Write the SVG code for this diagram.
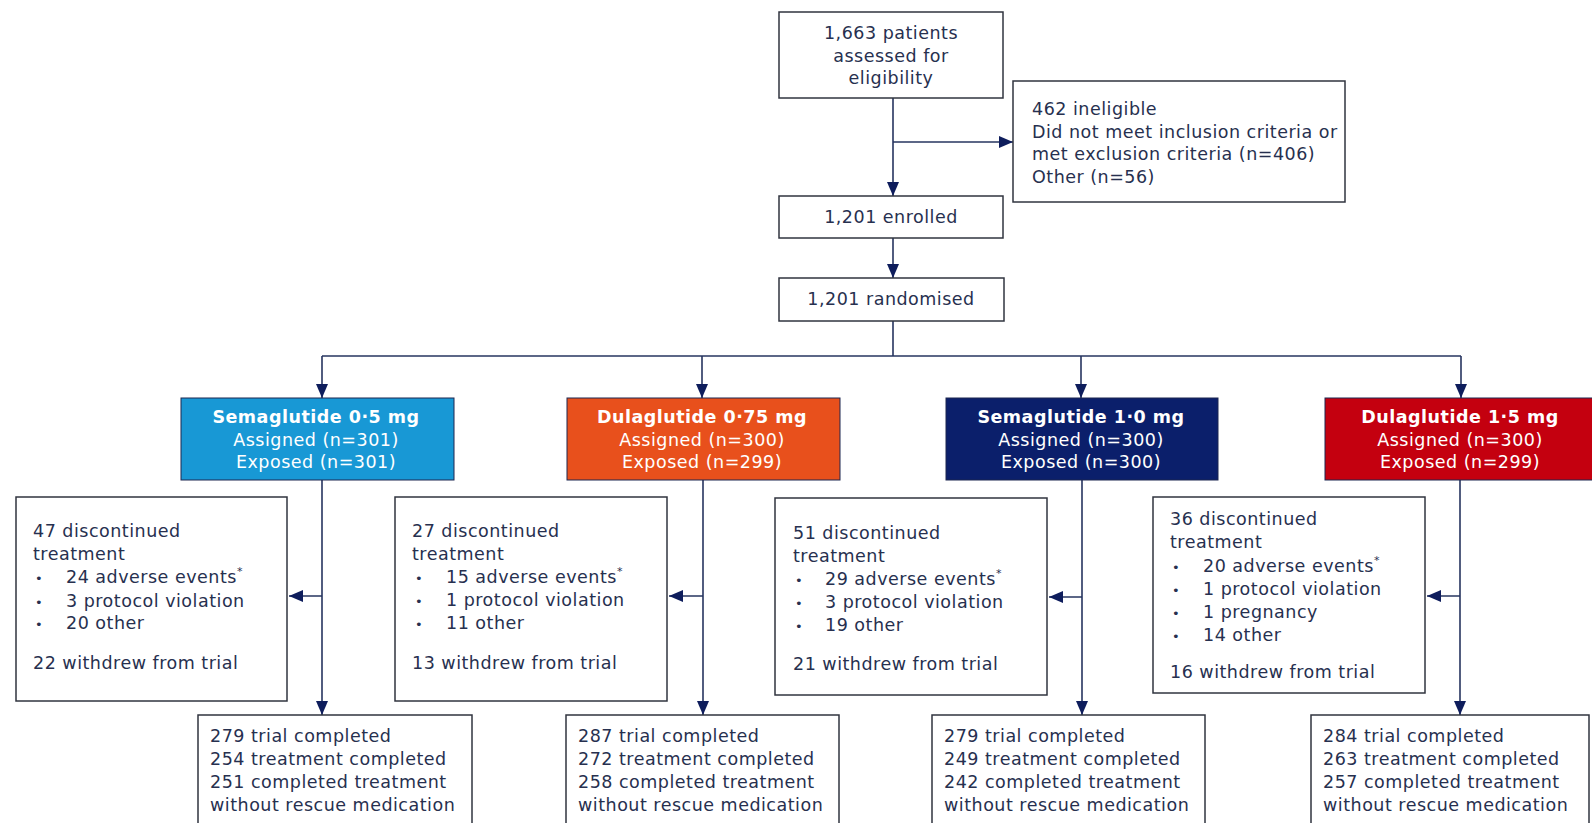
<svg xmlns="http://www.w3.org/2000/svg" width="1592" height="823" viewBox="0 0 1592 823">
<style>
text{font-family:"DejaVu Sans","Verdana",sans-serif;font-size:17.5px;letter-spacing:0.5px;fill:#27304f}
.c{text-anchor:middle}
.w{fill:#ffffff}
.b{font-weight:bold}
.box{fill:#ffffff;stroke:#30343f;stroke-width:1.5}
.cb{stroke:#1d2750;stroke-width:1}
.ln{fill:none;stroke:#26345f;stroke-width:1.6}
.bul{font-size:13px}
.sup{font-size:11px}
</style>
<defs>
<marker id="ah" viewBox="0 0 14 12" refX="14" refY="6" markerWidth="14" markerHeight="12" markerUnits="userSpaceOnUse" orient="auto">
<path d="M0,0 L14,6 L0,12 z" fill="#0e1d5c"/>
</marker>
</defs>
<rect width="1592" height="823" fill="#ffffff"/>

<g id="connectors">
<line class="ln" x1="893" y1="98" x2="893" y2="196" marker-end="url(#ah)"/>
<line class="ln" x1="893" y1="142" x2="1013" y2="142" marker-end="url(#ah)"/>
<line class="ln" x1="893" y1="238" x2="893" y2="278" marker-end="url(#ah)"/>
<line class="ln" x1="893" y1="321" x2="893" y2="356"/>
<line class="ln" x1="322" y1="356" x2="1461" y2="356"/>
<line class="ln" x1="322" y1="356" x2="322" y2="398" marker-end="url(#ah)"/>
<line class="ln" x1="702" y1="356" x2="702" y2="398" marker-end="url(#ah)"/>
<line class="ln" x1="1081" y1="356" x2="1081" y2="398" marker-end="url(#ah)"/>
<line class="ln" x1="1461" y1="356" x2="1461" y2="398" marker-end="url(#ah)"/>
<line class="ln" x1="322" y1="480" x2="322" y2="715" marker-end="url(#ah)"/>
<line class="ln" x1="703" y1="480" x2="703" y2="715" marker-end="url(#ah)"/>
<line class="ln" x1="1082" y1="480" x2="1082" y2="715" marker-end="url(#ah)"/>
<line class="ln" x1="1460" y1="480" x2="1460" y2="715" marker-end="url(#ah)"/>
<line class="ln" x1="322" y1="596" x2="289" y2="596" marker-end="url(#ah)"/>
<line class="ln" x1="703" y1="596" x2="669" y2="596" marker-end="url(#ah)"/>
<line class="ln" x1="1082" y1="597" x2="1049" y2="597" marker-end="url(#ah)"/>
<line class="ln" x1="1460" y1="596" x2="1427" y2="596" marker-end="url(#ah)"/>
</g>

<g id="assessed">
<rect class="box" x="779" y="12" width="224" height="86"/>
<text class="c" x="891" y="39">1,663 patients</text>
<text class="c" x="891" y="62">assessed for</text>
<text class="c" x="891" y="84">eligibility</text>
</g>

<g id="ineligible">
<rect class="box" x="1013" y="81" width="332" height="121"/>
<text x="1032" y="115">462 ineligible</text>
<text x="1032" y="138">Did not meet inclusion criteria or</text>
<text x="1032" y="160">met exclusion criteria (n=406)</text>
<text x="1032" y="183">Other (n=56)</text>
</g>

<g id="enrolled">
<rect class="box" x="779" y="196" width="224" height="42"/>
<text class="c" x="891" y="223">1,201 enrolled</text>
</g>

<g id="randomised">
<rect class="box" x="779" y="278" width="225" height="43"/>
<text class="c" x="891" y="305">1,201 randomised</text>
</g>

<g id="sema05">
<rect class="cb" x="181" y="398" width="273" height="82" fill="#1898d5"/>
<text class="c w b" x="316" y="423">Semaglutide 0·5 mg</text>
<text class="c w" x="316" y="446">Assigned (n=301)</text>
<text class="c w" x="316" y="468">Exposed (n=301)</text>
</g>

<g id="dula075">
<rect class="cb" x="567" y="398" width="273" height="82" fill="#e8501c"/>
<text class="c w b" x="702" y="423">Dulaglutide 0·75 mg</text>
<text class="c w" x="702" y="446">Assigned (n=300)</text>
<text class="c w" x="702" y="468">Exposed (n=299)</text>
</g>

<g id="sema10">
<rect class="cb" x="946" y="398" width="272" height="82" fill="#0b1f6b"/>
<text class="c w b" x="1081" y="423">Semaglutide 1·0 mg</text>
<text class="c w" x="1081" y="446">Assigned (n=300)</text>
<text class="c w" x="1081" y="468">Exposed (n=300)</text>
</g>

<g id="dula15">
<rect class="cb" x="1325" y="398" width="272" height="82" fill="#c4000f"/>
<text class="c w b" x="1460" y="423">Dulaglutide 1·5 mg</text>
<text class="c w" x="1460" y="446">Assigned (n=300)</text>
<text class="c w" x="1460" y="468">Exposed (n=299)</text>
</g>

<g id="disc1">
<rect class="box" x="16" y="497" width="271" height="204"/>
<text x="33" y="537">47 discontinued</text>
<text x="33" y="560">treatment</text>
<text class="bul" x="35" y="583">•</text><text x="66" y="583">24 adverse events<tspan class="sup" dy="-8">*</tspan></text>
<text class="bul" x="35" y="607">•</text><text x="66" y="607">3 protocol violation</text>
<text class="bul" x="35" y="629">•</text><text x="66" y="629">20 other</text>
<text x="33" y="669">22 withdrew from trial</text>
</g>

<g id="disc2">
<rect class="box" x="395" y="497" width="272" height="204"/>
<text x="412" y="537">27 discontinued</text>
<text x="412" y="560">treatment</text>
<text class="bul" x="415" y="583">•</text><text x="446" y="583">15 adverse events<tspan class="sup" dy="-8">*</tspan></text>
<text class="bul" x="415" y="606">•</text><text x="446" y="606">1 protocol violation</text>
<text class="bul" x="415" y="629">•</text><text x="446" y="629">11 other</text>
<text x="412" y="669">13 withdrew from trial</text>
</g>

<g id="disc3">
<rect class="box" x="775" y="498" width="272" height="197"/>
<text x="793" y="539">51 discontinued</text>
<text x="793" y="562">treatment</text>
<text class="bul" x="795" y="585">•</text><text x="825" y="585">29 adverse events<tspan class="sup" dy="-8">*</tspan></text>
<text class="bul" x="795" y="608">•</text><text x="825" y="608">3 protocol violation</text>
<text class="bul" x="795" y="631">•</text><text x="825" y="631">19 other</text>
<text x="793" y="670">21 withdrew from trial</text>
</g>

<g id="disc4">
<rect class="box" x="1153" y="497" width="272" height="196"/>
<text x="1170" y="525">36 discontinued</text>
<text x="1170" y="548">treatment</text>
<text class="bul" x="1172" y="572">•</text><text x="1203" y="572">20 adverse events<tspan class="sup" dy="-8">*</tspan></text>
<text class="bul" x="1172" y="595">•</text><text x="1203" y="595">1 protocol violation</text>
<text class="bul" x="1172" y="618">•</text><text x="1203" y="618">1 pregnancy</text>
<text class="bul" x="1172" y="641">•</text><text x="1203" y="641">14 other</text>
<text x="1170" y="678">16 withdrew from trial</text>
</g>

<g id="comp1">
<rect class="box" x="198" y="715" width="274" height="120"/>
<text x="210" y="742">279 trial completed</text>
<text x="210" y="765">254 treatment completed</text>
<text x="210" y="788">251 completed treatment</text>
<text x="210" y="811">without rescue medication</text>
</g>

<g id="comp2">
<rect class="box" x="566" y="715" width="273" height="120"/>
<text x="578" y="742">287 trial completed</text>
<text x="578" y="765">272 treatment completed</text>
<text x="578" y="788">258 completed treatment</text>
<text x="578" y="811">without rescue medication</text>
</g>

<g id="comp3">
<rect class="box" x="932" y="715" width="273" height="120"/>
<text x="944" y="742">279 trial completed</text>
<text x="944" y="765">249 treatment completed</text>
<text x="944" y="788">242 completed treatment</text>
<text x="944" y="811">without rescue medication</text>
</g>

<g id="comp4">
<rect class="box" x="1311" y="715" width="278" height="120"/>
<text x="1323" y="742">284 trial completed</text>
<text x="1323" y="765">263 treatment completed</text>
<text x="1323" y="788">257 completed treatment</text>
<text x="1323" y="811">without rescue medication</text>
</g>
</svg>
